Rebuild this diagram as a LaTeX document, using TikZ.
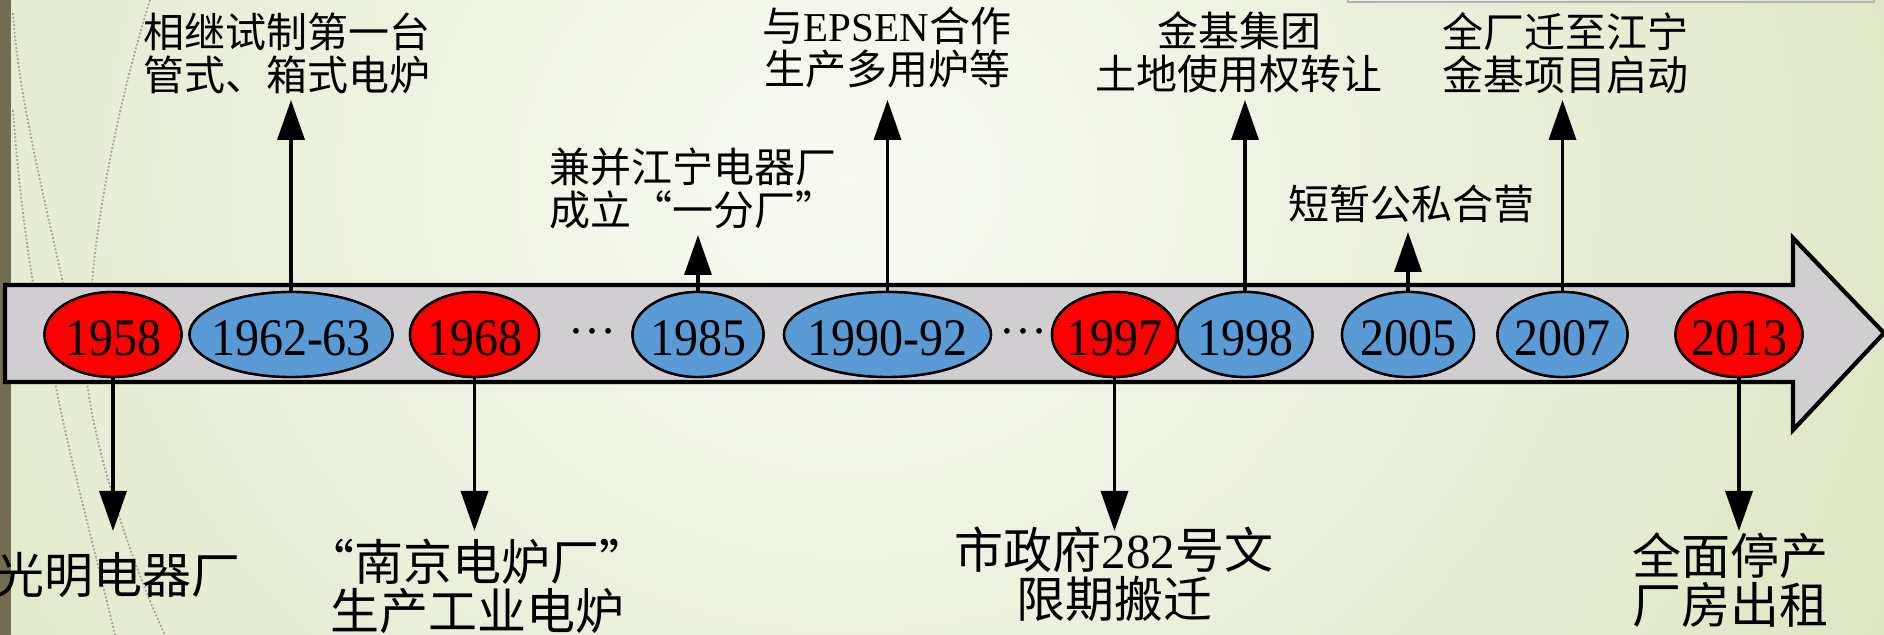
\documentclass[tikz,border=0pt]{standalone}
\usepackage{fontspec}
\usepackage{graphicx}
\setmainfont{Liberation Serif}
\newfontfamily\cjk{Noto Sans CJK SC}
\usetikzlibrary{shapes.geometric,arrows.meta}
\definecolor{rd}{HTML}{FF0000}
\definecolor{bl}{HTML}{5B9BD5}
\definecolor{bandgray}{HTML}{D0CED0}
\definecolor{olivebar}{HTML}{736C50}
\definecolor{bginner}{HTML}{F8FAF3}
\definecolor{bgouter}{HTML}{DCE5C0}
\definecolor{dotline}{HTML}{A3A597}
\newcommand{\yrtext}[1]{\makebox[0pt]{\scalebox{1}[1.1]{#1}}}
\tikzset{
  yr/.style={ellipse, draw=black, line width=1.2pt, inner sep=0pt,
    minimum height=42.5pt, font=\fontsize{24pt}{24pt}\selectfont,
    text height=20.6pt, text depth=0pt},
  yrred/.style={yr, fill=rd},
  yrblue/.style={yr, fill=bl},
  conn/.style={line width=1.75pt, -{Triangle[length=20pt,width=13.5pt]}},
  toptxt/.style={inner sep=0pt, align=center, font=\fontsize{20.5pt}{21.5pt}\selectfont\cjk},
  bottxt/.style={inner sep=0pt, align=center, font=\fontsize{24.5pt}{24.5pt}\selectfont\cjk},
  dotsty/.style={inner sep=0pt, anchor=base, font=\fontsize{24pt}{24pt}\selectfont},
  deco/.style={densely dotted, draw=dotline, line width=0.9pt}
}
\begin{document}
\begin{tikzpicture}[x=0.5pt,y=-0.5pt]
\useasboundingbox (0,0) rectangle (1884,635);
% background
\begin{scope}
  \clip (0,0) rectangle (1884,635);
  \shade[inner color=bginner, outer color=bgouter] (-400,-920) rectangle (2100,1280);
  % decorative dotted curves
  \draw[deco] (13,110) .. controls (18,180) and (26,240) .. (33,283);
  \draw[deco] (13,13) .. controls (18,90) and (40,180) .. (63,283);
  \draw[deco] (150,0) .. controls (125,80) and (100,190) .. (92,283);
  \draw[deco] (55,382) .. controls (70,460) and (95,550) .. (115,635);
  \draw[deco] (87,382) .. controls (95,450) and (130,560) .. (165,635);
  \draw[gray!60, line width=0.6pt] (1348,-2) -- (1348,2) -- (1874,2) -- (1874,-2);
\end{scope}
\fill[olivebar] (0,0) rectangle (11,635);
% timeline band
\draw[fill=bandgray, line width=2.1pt, line join=miter]
  (5,285) -- (1793,285) -- (1793,238) -- (1884,333) -- (1793,430) -- (1793,382) -- (5,382) -- cycle;
% year ellipses (positions)
\node[yrred,  minimum width=68.5pt]  (y1958) at (113,334.5)  {\yrtext{1958}};
\node[yrblue, minimum width=101.5pt] (y1962) at (291,334.5)  {\yrtext{1962-63}};
\node[yrred,  minimum width=64.5pt]  (y1968) at (474.5,334.5){\yrtext{1968}};
\node[yrblue, minimum width=65.5pt]  (y1985) at (698,334.5)  {\yrtext{1985}};
\node[yrblue, minimum width=103.5pt] (y1990) at (887.5,334.5){\yrtext{1990-92}};
\node[yrred,  minimum width=62.5pt]  (y1997) at (1114.5,334.5){\yrtext{1997}};
\node[yrblue, minimum width=67.5pt]  (y1998) at (1245,334.5) {\yrtext{1998}};
\node[yrblue, minimum width=66pt]    (y2005) at (1408,334.5) {\yrtext{2005}};
\node[yrblue, minimum width=65pt]    (y2007) at (1562.5,334.5){\yrtext{2007}};
\node[yrred,  minimum width=63.5pt]  (y2013) at (1739,334.5) {\yrtext{2013}};
\node[dotsty] (dots1) at (592,334) {…};
\node[dotsty] (dots2) at (1023,334) {…};
% arrow tips
\coordinate (t1962) at (291,100);
\coordinate (t1985) at (698,235);
\coordinate (t1990) at (887.5,100);
\coordinate (t1998) at (1245,100);
\coordinate (t2005) at (1408,232);
\coordinate (t2007) at (1562.5,100);
\coordinate (t1958) at (113,531);
\coordinate (t1968) at (474.5,531);
\coordinate (t1997) at (1114.5,531);
\coordinate (t2013) at (1739,531);
% connectors
\foreach \y in {1962,1985,1990,1998,2005,2007} {
  \draw[conn] (y\y.north) -- (t\y);
}
\foreach \y in {1958,1968,1997,2013} {
  \draw[conn] (y\y.south) -- (t\y);
}
% redraw ellipses over line starts
\node[yrred,  minimum width=68.5pt]  at (y1958) {\yrtext{1958}};
\node[yrblue, minimum width=101.5pt] at (y1962) {\yrtext{1962-63}};
\node[yrred,  minimum width=64.5pt]  at (y1968) {\yrtext{1968}};
\node[yrblue, minimum width=65.5pt]  at (y1985) {\yrtext{1985}};
\node[yrblue, minimum width=103.5pt] at (y1990) {\yrtext{1990-92}};
\node[yrred,  minimum width=62.5pt]  at (y1997) {\yrtext{1997}};
\node[yrblue, minimum width=67.5pt]  at (y1998) {\yrtext{1998}};
\node[yrblue, minimum width=66pt]    at (y2005) {\yrtext{2005}};
\node[yrblue, minimum width=65pt]    at (y2007) {\yrtext{2007}};
\node[yrred,  minimum width=63.5pt]  at (y2013) {\yrtext{2013}};
% upper labels
\node[toptxt] (n1962) at (287,53) {相继试制第一台\\管式、箱式电炉};
\node[toptxt, align=left, anchor=west] (n1985) at (549,188) {兼并江宁电器厂\\成立“一分厂”};
\node[toptxt] (n1990) at (887,48) {与{\rmfamily EPSEN}合作\\生产多用炉等};
\node[toptxt] (n1998) at (1239,52.5) {金基集团\\土地使用权转让};
\node[toptxt] (n2005) at (1411,203.5) {短暂公私合营};
\node[toptxt] (n2007) at (1565,53) {全厂迁至江宁\\金基项目启动};
% lower labels
\node[bottxt] (n1958) at (118,575.5) {光明电器厂};
\node[bottxt] (n1968) at (477,586) {“南京电炉厂”\\生产工业电炉};
\node[bottxt] (n1997) at (1114,574) {市政府{\rmfamily 282}号文\\限期搬迁};
\node[bottxt] (n2013) at (1730,580) {全面停产\\厂房出租};
\end{tikzpicture}
\end{document}
